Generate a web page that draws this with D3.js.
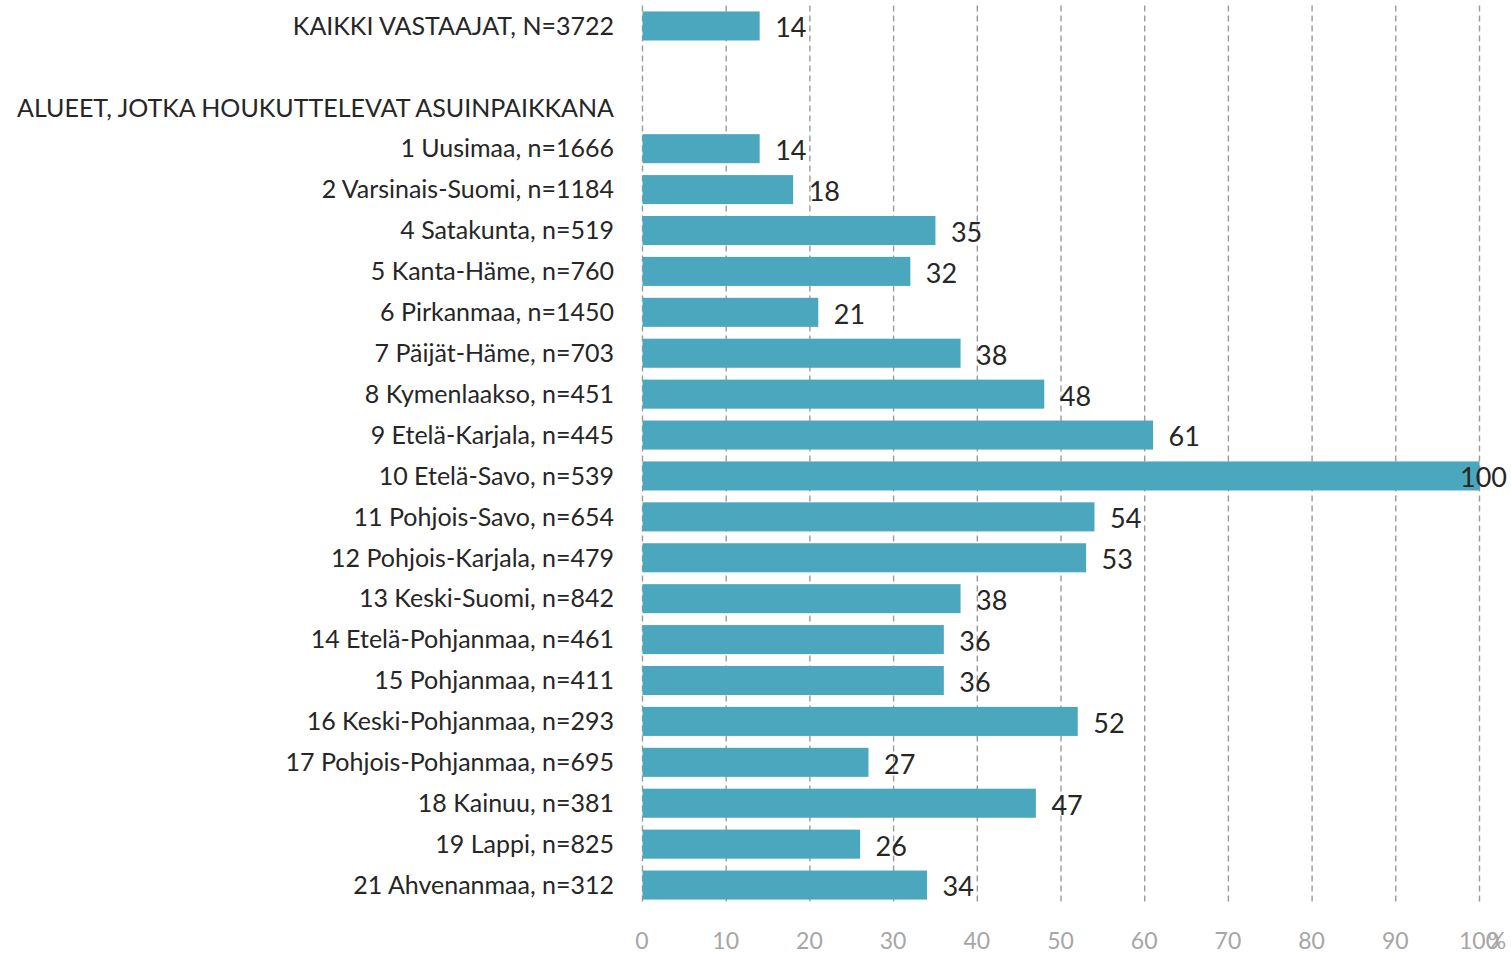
<!DOCTYPE html>
<html>
<head>
<meta charset="utf-8">
<script src="https://cdn.jsdelivr.net/npm/d3@7"></script>
<style>
  html, body { margin: 0; padding: 0; background: #fff; }
  svg { display: block; font-family: Lato, "Open Sans", sans-serif; }
</style>
</head>
<body>
<div id="chart"></div>
<script>
// rows from top to bottom; blank row and header row have no value
const categories = [
  "KAIKKI VASTAAJAT, N=3722",
  "",
  "ALUEET, JOTKA HOUKUTTELEVAT ASUINPAIKKANA",
  "1 Uusimaa, n=1666",
  "2 Varsinais-Suomi, n=1184",
  "4 Satakunta, n=519",
  "5 Kanta-Häme, n=760",
  "6 Pirkanmaa, n=1450",
  "7 Päijät-Häme, n=703",
  "8 Kymenlaakso, n=451",
  "9 Etelä-Karjala, n=445",
  "10 Etelä-Savo, n=539",
  "11 Pohjois-Savo, n=654",
  "12 Pohjois-Karjala, n=479",
  "13 Keski-Suomi, n=842",
  "14 Etelä-Pohjanmaa, n=461",
  "15 Pohjanmaa, n=411",
  "16 Keski-Pohjanmaa, n=293",
  "17 Pohjois-Pohjanmaa, n=695",
  "18 Kainuu, n=381",
  "19 Lappi, n=825",
  "21 Ahvenanmaa, n=312"
];
const values = [14, null, null, 14, 18, 35, 32, 21, 38, 48, 61, 100, 54, 53, 38, 36, 36, 52, 27, 47, 26, 34];
const xTicks = [0, 10, 20, 30, 40, 50, 60, 70, 80, 90, 100];

const width = 1511;
const height = 953;
const margin = { top: 5.5, right: 32, bottom: 47.5, left: 642 };

const rows = categories.map((c, i) => ({ key: "r" + i, label: c, value: values[i] }));

const svg = d3.select("#chart")
  .append("svg")
  .attr("width", width)
  .attr("height", height);

const x = d3.scaleLinear()
  .domain([0, 100])
  .range([margin.left, width - margin.right]);

const y = d3.scaleBand()
  .domain(rows.map(d => d.key))
  .range([margin.top, height - margin.bottom])
  .paddingInner(0.29)
  .paddingOuter(0.145);

// dashed vertical gridlines
svg.append("g")
  .selectAll("line")
  .data(xTicks)
  .join("line")
  .attr("x1", d => x(d) + 0.5)
  .attr("x2", d => x(d) + 0.5)
  .attr("y1", margin.top)
  .attr("y2", height - margin.bottom)
  .attr("stroke", "#9a9a9a")
  .attr("stroke-width", 1.4)
  .attr("stroke-dasharray", "6,4");

// bars
svg.append("g")
  .selectAll("rect")
  .data(rows.filter(d => d.value != null))
  .join("rect")
  .attr("x", x(0) + 0.5)
  .attr("y", d => y(d.key))
  .attr("width", d => x(d.value) - x(0))
  .attr("height", y.bandwidth())
  .attr("fill", "#4ba7bd");

// category labels
svg.append("g")
  .selectAll("text")
  .data(rows)
  .join("text")
  .attr("x", margin.left - 28)
  .attr("y", d => y(d.key) + y.bandwidth() / 2)
  .attr("dy", "0.35em")
  .attr("text-anchor", "end")
  .attr("fill", "#262626")
  .style("font-size", "25px")
  .text(d => d.label);

// value labels, pulled inside if they run off the edge
const valueLabels = svg.append("g")
  .selectAll("text")
  .data(rows.filter(d => d.value != null))
  .join("text")
  .attr("y", d => y(d.key) + y.bandwidth() / 2 + 2)
  .attr("dy", "0.35em")
  .attr("fill", "#262626")
  .style("font-size", "27px")
  .text(d => d.value);

valueLabels.each(function (d) {
  const w = this.getComputedTextLength();
  let lx = x(d.value) + 16;
  if (lx + w > width - 4) lx = width - 4 - w;
  d3.select(this).attr("x", lx);
});

// x axis tick labels
svg.append("g")
  .selectAll("text")
  .data(xTicks)
  .join("text")
  .attr("x", d => x(d))
  .attr("y", 941)
  .attr("dy", "0.35em")
  .attr("text-anchor", "middle")
  .attr("fill", "#a6a6a6")
  .style("font-size", "23px")
  .text(d => d);

svg.append("text")
  .attr("x", x(100) + 18)
  .attr("y", 941)
  .attr("dy", "0.35em")
  .attr("text-anchor", "middle")
  .attr("fill", "#a6a6a6")
  .style("font-size", "23px")
  .text("%");
</script>
</body>
</html>
